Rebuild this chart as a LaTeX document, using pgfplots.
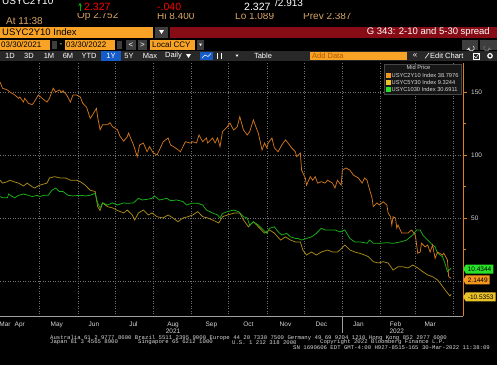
\documentclass[border=0pt]{standalone}
\usepackage{pgfplots}
\pgfplotsset{compat=1.18}
\usepackage{fontspec}
\setmainfont{Liberation Sans}
\setmonofont{Liberation Mono}
\usetikzlibrary{shapes.symbols}

\definecolor{lor}{RGB}{208,118,28}
\definecolor{lol}{RGB}{170,138,24}
\definecolor{lgr}{RGB}{24,178,24}
\definecolor{legor}{RGB}{245,150,30}
\definecolor{legye}{RGB}{235,195,40}
\definecolor{leggr}{RGB}{40,225,40}
\definecolor{bbor}{RGB}{248,163,38}
\definecolor{bbred}{RGB}{135,12,22}
\definecolor{bbbar}{RGB}{40,40,40}
\definecolor{bbbtn}{RGB}{62,62,62}
\definecolor{bbblue}{RGB}{22,92,200}
\definecolor{axor}{RGB}{215,130,30}
\definecolor{gridc}{RGB}{115,115,115}
\definecolor{txt}{RGB}{215,215,215}
\definecolor{tanc}{RGB}{215,165,100}
\definecolor{legbg}{RGB}{22,22,22}
\definecolor{legdr}{RGB}{70,70,70}
\newcommand{\fs}[1]{\fontsize{#1}{#1}\selectfont}

\begin{document}
\begin{tikzpicture}
\clip (0,0) rectangle (497pt,-365pt);
\fill[black] (0,0) rectangle (497pt,-365pt);

\begin{axis}[
  at={(0pt,-316pt)}, anchor=south west,
  scale only axis, width=463pt, height=253pt,
  xmin=0, xmax=374.6, ymin=-27.8, ymax=173,
  axis x line=bottom, axis y line=right,
  axis line style={-},
  x axis line style={draw=gray!75, line width=0.6pt},
  y axis line style={draw=axor, line width=0.9pt},
  xtick={4,16,46,76,108,140,171,201,231,260,290,320,348},
  xticklabels={Mar,Apr,May,Jun,Jul,Aug,Sep,Oct,Nov,Dec,Jan,Feb,Mar},
  minor xtick={32,63,93,124,155,185,216,246,277,308,336,367},
  xtick style={draw=none},
  xminorgrids,
  ytick={0,50,100,150}, yticklabels={,50,100,150},
  minor ytick={25,75,125},
  ymajorgrids,
  grid style={gridc, dotted, line width=0.5pt},
  minor grid style={gridc, dotted, line width=0.5pt},
  major grid style={gridc, dotted, line width=0.5pt},
  ytick style={axor, line width=0.6pt},
  tick align=outside,
  major tick length=4pt, minor tick length=2.5pt,
  ticklabel style={font=\fs{6.5}, text=txt},
  xticklabel style={anchor=base, yshift=-6.8pt},
  yticklabel style={anchor=west, inner sep=0pt, xshift=4pt},
  /pgf/number format/assume math mode=true,
  clip=false,
  legend cell align=left,
  legend image code/.code={\path[#1] (0pt,-2.5pt) rectangle (5pt,2.5pt);},
  legend style={at={(1,1)}, anchor=north east, xshift=-1.5pt, yshift=-0.5pt,
    fill=legbg, draw=legdr, text=txt, font=\fs{5.7},
    inner xsep=2pt, inner ysep=1pt, row sep=0pt,
    nodes={inner sep=0.8pt, text height=4.3pt, text depth=1.3pt, text=txt}},
]
\addlegendimage{empty legend}
\addlegendimage{fill=legor, draw=none}
\addlegendimage{fill=legye, draw=none}
\addlegendimage{fill=leggr, draw=none}
\legend{{\hspace*{15pt}Mid Price},{USYC2Y10 Index 38.7976},{USYC5Y30 Index 9.3244},{USYC1030 Index 30.6911}}

% USYC5Y30 (olive)
\addplot[forget plot, lol, line width=0.75pt] table[x=day,y=val] {
day val
0 80
2 77.7
6 78.8
8 80
11 78.8
15 77.7
19 75.4
22 77.7
26 74.8
28 73.8
32 76
38 77.7
40 81.7
44 82.8
49 81.7
53 81.7
57 80
62 80
65 78.8
69 76
73 72
77 71
79 59
81 56
83 62
87 59
91 58
95 56
100 54
103 56.3
107 52.4
109 48.4
112 54
116 56.3
120 52.4
123 54
127 51
132 50
136 52.4
140 50
144 47
148 50
152 51
156 52.4
160 55
164 51
168 50
172 48.4
177 46
180 51
184 52.4
190 54
194 54
197 48.4
201 43
205 47
209 43
214 38
218 40.5
222 38
227 32.5
231 35
235 32.5
239 31
243 31
245 24.6
248 20.6
252 23
256 20.6
260 23
265 24.6
269 23
273 23
275 24.6
279 28.6
283 24.6
287 23
291 22
295 20.6
298 19.3
302 15.3
306 14.3
310 15.3
314 14.3
318 8.7
322 11.3
326 11.3
330 10.3
334 12.7
338 10.3
342 7.4
346 4.8
350 3.4
354 0.8
356 -1.6
359 -5.6
362 -9.5
364 -11.9
365 -10.5
};

% USYC1030 (green)
\addplot[forget plot, lgr, line width=0.75pt] table[x=day,y=val] {
day val
0 67
2 66
6 66
7 69
10 67
12 66
15 68
19 69
23 68
26 67
30 68
32 67
36 68
39 68
42 72
45 73.8
48 71
51 71
55 68
59 67.5
65 68
69 67.5
73 68
77 69.6
79 62
81 58
83 62
87 60.3
91 62
95 60.3
100 62
103 61.6
108 62
112 65.6
115 64.3
119 64.8
123 65.6
125 67.5
129 64.3
135 65.6
138 63.7
143 64.3
148 63
151 60.3
155 61.6
160 61.6
164 60.3
167 56.3
172 54
176 52.4
178 50
180 53.7
184 55
189 56.3
193 55
197 51
200 50
202 44.4
205 47
209 44.4
213 40.5
216 37.8
218 41.8
222 43
225 39
228 36.5
232 37.8
235 35
239 33.8
241 33.8
244 32.5
248 33.8
252 35
256 37.8
260 41.8
263 40.5
267 40.5
271 40.5
275 39
279 40.5
283 33.8
287 31
291 31
295 30.4
297 29.9
299 32.5
302 29.9
307 29.9
313 30.4
318 29.9
324 31
329 32.5
334 36.5
337 40.5
340 40.5
342 36.5
346 32.5
350 28.6
352 27.2
354 22
358 19.3
360 14
362 7.4
364 9.2
365 10.4
};

% USYC2Y10 (orange)
\addplot[forget plot, lor, line width=0.75pt] table[x=day,y=val] {
day val
0 158
2 153
6 151.6
8 150
12 147.6
15 145
16 146
19 142
20 145
23 141
26 140
27 141
31 147.6
34 145
38 142
40 145
43 153
45 150
48 151.6
50 149.5
51 151
54 147.6
57 142
59 147.6
62 147.6
65 146
67 141
70 138
73 129
75 132
78 137
79 130
81 120
83 124
87 124
89 125.6
91 122.5
95 120
97 115
100 111
103 114.5
104 117.4
108 108
111 98.7
113 108
116 109.5
119 102.6
121 106.6
124 101.6
127 100
129 104
132 110.5
136 113.5
138 108
142 105.6
146 102.6
150 110.5
154 109.5
156 110.5
159 109.5
161 115.9
164 110.5
167 113.5
168 109.5
172 113.5
174 109.5
176 113.5
178 106.6
180 118.5
184 122.5
186 125.4
189 119.8
192 122.5
194 130.4
197 119.8
200 115.9
202 118.5
205 127.8
208 119.8
209 117.4
212 104
214 109.5
216 105.6
217 109.5
220 113.5
222 105.6
225 102.6
228 108
231 112
233 109.5
236 105.6
239 102.6
240 98.7
243 101.6
244 88
247 81.7
248 76
251 82.8
253 80
255 82.8
257 77.7
260 78.8
263 77.7
265 80
269 77.7
271 73.8
273 80
276 76
277 88
280 89.7
283 88
286 84
290 81.7
293 77.7
295 81.7
297 80
298 76
301 65.9
302 59
305 61.9
307 60.3
310 62.9
313 60.3
314 54
316 51
317 44.4
318 51
320 50
321 42
322 44.4
325 38
328 38
330 38
333 40.5
336 36.5
338 22
340 23
341 30
344 27
346 28.6
348 23
350 28.6
352 18
354 23
358 20.6
359 22
362 16.7
363 3.4
365 2.1
};

% last-value tags
\node[signal, signal to=west, signal pointer angle=120, fill=leggr, text=black, font=\fs{6.5},
  anchor=west, inner xsep=2pt, inner ysep=0.5pt, minimum height=9pt] at (axis cs:374.6,9.5) {10.4344};
\node[signal, signal to=west, signal pointer angle=120, fill=legor, text=black, font=\fs{6.5},
  anchor=west, inner xsep=2pt, inner ysep=0.5pt, minimum height=9pt] at (axis cs:374.6,0.8) {2.1449};
\node[signal, signal to=west, signal pointer angle=120, fill=legye, text=black, font=\fs{6.5},
  anchor=west, inner xsep=2pt, inner ysep=0.5pt, minimum height=9pt] at (axis cs:374.6,-12.7) {-10.5353};
% year labels
\draw[gray!75, line width=0.5pt] (axis cs:277,-27.8) -- ([yshift=-17pt]axis cs:277,-27.8);
\node[font=\fs{6.5}, text=txt, anchor=base] at ([yshift=-17.5pt]axis cs:140,-27.8) {2021};
\node[font=\fs{6.5}, text=txt, anchor=base] at ([yshift=-17.5pt]axis cs:321,-27.8) {2022};
\end{axis}

\begin{scope}[x=1pt,y=-1pt]
% row 2 (partly hidden)
\node[anchor=west, text=tanc, font=\fs{10}, inner sep=0pt] at (77,16) {Op 2.752};
\node[anchor=west, text=tanc, font=\fs{10}, inner sep=0pt] at (157,16) {Hi 8.400};
\node[anchor=west, text=tanc, font=\fs{10}, inner sep=0pt] at (235,16) {Lo 1.089};
\node[anchor=west, text=tanc, font=\fs{10}, inner sep=0pt] at (303,16) {Prev 2.387};
\fill[black] (60,0) rectangle (380,12.6);
% row 1
\node[anchor=west, text=white, font=\fs{10}, inner sep=0pt] at (2,1.5) {USYC2Y10};
\draw[green!70!black, line width=0.7pt, -stealth] (80,11) -- (80,2.5);
\node[anchor=west, text=red, font=\fs{10.5}, inner sep=0pt] at (84,6.5) {2.327};
\node[anchor=west, text=red, font=\fs{10.5}, inner sep=0pt] at (157,6.5) {-.040};
\node[anchor=west, text=white, font=\fs{10.5}, inner sep=0pt] at (244,6.5) {2.327};
\node[anchor=west, text=white, font=\fs{10}, inner sep=0pt] at (275,2.5) {/2.913};
\node[anchor=west, text=tanc, font=\fs{10}, inner sep=0pt] at (6,21) {At 11:38};
% row 3
\fill[bbor] (0,27) rectangle (153,37.5);
\node[anchor=west, text=black, font=\fs{9.5}, inner sep=0pt] at (2,32.3) {USYC2Y10 Index};
\fill[bbbtn] (155,27) rectangle (168,37.5);
\fill[white] (159,30) -- (164,30) -- (161.5,34) -- cycle;
\fill[bbred] (170,27) rectangle (497,37.5);
\node[anchor=east, text=white, font=\fs{9.5}, inner sep=0pt] at (490,32.3) {G 343: 2-10 and 5-30 spread};
% row 4
\fill[bbor] (0,40) rectangle (50,49.5);
\node[anchor=west, text=black, font=\fs{8}, inner sep=0pt] at (1,44.8) {03/30/2021};
\fill[bbbtn] (52,41) rectangle (57,48.5);
\node[text=white, font=\fs{8}, inner sep=0pt] at (61,44.8) {-};
\fill[bbor] (65,40) rectangle (115,49.5);
\node[anchor=west, text=black, font=\fs{8}, inner sep=0pt] at (66,44.8) {03/30/2022};
\fill[bbbtn] (117,41) rectangle (122,48.5);
\fill[bbbtn] (126,40) rectangle (136,49.5);
\node[text=white, font=\fs{8}, inner sep=0pt] at (131,44.8) {<};
\fill[bbbtn] (138,40) rectangle (147,49.5);
\node[text=white, font=\fs{8}, inner sep=0pt] at (142.5,44.8) {>};
\fill[bbor] (150,40) rectangle (195,49.5);
\node[anchor=west, text=black, font=\fs{8}, inner sep=0pt] at (152,44.8) {Local CCY};
\fill[bbbtn] (197,40) rectangle (204,49.5);
\fill[white] (199,43.5) -- (202,43.5) -- (200.5,46) -- cycle;
\fill[bbbtn] (462,40) rectangle (478,49.5);
\fill[bbbtn] (480,40) rectangle (497,49.5);
\draw[white, line width=0.5pt, -stealth] (473,46) arc (-60:200:2.6);
\draw[gray, line width=0.5pt, -stealth] (485,46) arc (240:-20:2.6);
% row 5
\fill[bbbar] (0,51) rectangle (497,60.5);
\foreach \lab/\xx in {1D/10,3D/29,1M/49,6M/68,YTD/89,5Y/129,Max/150}
  \node[text=white, font=\fs{7.5}, inner sep=0pt] at (\xx,55.8) {\lab};
\fill[bbblue] (101,51) rectangle (121,60.5);
\node[text=white, font=\fs{7.5}, inner sep=0pt] at (111,55.8) {1Y};
\node[anchor=west, text=white, font=\fs{7.5}, inner sep=0pt] at (165,55.8) {Daily};
\fill[white] (186,54) -- (191,54) -- (188.5,58) -- cycle;
\fill[bbblue] (200,51.5) rectangle (213,60);
\draw[white, line width=0.5pt] (202,58) -- (205,55) -- (208,56.5) -- (211,53.5);
\draw[white, line width=0.5pt] (217,53) -- (217,59) (221,53) -- (221,59);
\fill[white] (235.5,54.5) -- (238.5,54.5) -- (237,57) -- cycle;
\node[text=white, font=\fs{7.5}, inner sep=0pt] at (263,55.8) {Table};
\fill[bbor] (310,51.5) rectangle (407,60);
\node[anchor=west, text=orange!70!black, font=\fs{7.5}, inner sep=0pt] at (312,55.8) {Add Data};
\node[text=white, font=\fs{8}, inner sep=0pt] at (415,55.5) {«};
\draw[white, line width=0.6pt] (425,58.5) -- (429,53);
\node[anchor=west, text=white, font=\fs{7.5}, inner sep=0pt] at (430,55.8) {Edit Chart};
\draw[white, line width=0.5pt] (473,53) rectangle (479,59);
\draw[white, line width=0.5pt] (474,56) -- (476,58) -- (479,53.5);
\draw[white, line width=1.2pt] (490,55.8) circle (2.2);
% footer
\node[anchor=west, text=txt, font=\ttfamily\fs{5.65}, inner sep=0pt] at (50,337.8) {Australia 61 2 9777 8600 Brazil 5511 2395 9000 Europe 44 20 7330 7500 Germany 49 69 9204 1210 Hong Kong 852 2977 6000};
\node[anchor=west, text=txt, font=\ttfamily\fs{5.65}, inner sep=0pt] at (50,342.5) {Japan 81 3 4565 8900};
\node[anchor=west, text=txt, font=\ttfamily\fs{5.65}, inner sep=0pt] at (138,342.5) {Singapore 65 6212 1000};
\node[anchor=west, text=txt, font=\ttfamily\fs{5.65}, inner sep=0pt] at (232,342.5) {U.S. 1 212 318 2000};
\node[anchor=west, text=txt, font=\ttfamily\fs{5.65}, inner sep=0pt] at (320,342.5) {Copyright 2022 Bloomberg Finance L.P.};
\node[anchor=west, text=txt, font=\ttfamily\fs{5.65}, inner sep=0pt] at (293,347.7) {SN 1690606 EDT  GMT-4:00 H927-8515-165 30-Mar-2022 11:38:09};
\end{scope}
\end{tikzpicture}
\end{document}
